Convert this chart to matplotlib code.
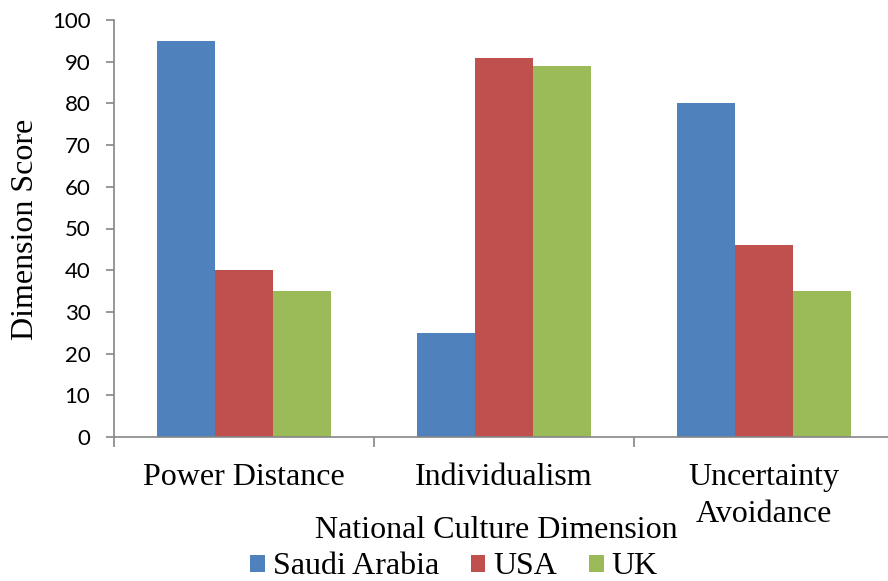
import matplotlib
matplotlib.use("Agg")
import matplotlib.pyplot as plt
from matplotlib.patches import Patch
import numpy as np

categories = ["Power Distance", "Individualism", "Uncertainty\nAvoidance"]
series_names = ["Saudi Arabia", "USA", "UK"]
saudi = [95, 25, 80]
usa = [40, 91, 46]
uk = [35, 89, 35]
y_ticks = [0, 10, 20, 30, 40, 50, 60, 70, 80, 90, 100]
colors = ["#4F81BD", "#C0504D", "#9BBB59"]

W, H = 888, 581
fig = plt.figure(figsize=(W / 100, H / 100), dpi=100)
ax_left, ax_right, ax_bottom, ax_top = 114, 894, 437, 20
ax = fig.add_axes([ax_left / W, 1 - ax_bottom / H, (ax_right - ax_left) / W, (ax_bottom - ax_top) / H])

serif = ["Liberation Serif", "DejaVu Serif"]
sans = ["Lato", "DejaVu Sans"]
fs = 23

x = np.arange(len(categories))
bw = 0.223
for i, (vals, c) in enumerate(zip([saudi, usa, uk], colors)):
    ax.bar(x + (i - 1) * bw, vals, bw, color=c, label=series_names[i], zorder=2)

ax.set_xlim(-0.5, len(categories) - 0.5)
ax.set_ylim(0, 100)
ax.set_yticks(y_ticks)
ax.set_yticklabels([str(v) for v in y_ticks], fontfamily=sans, fontsize=16)

ax.set_xticks(x)
ax.set_xticklabels(categories, fontfamily=serif, fontsize=fs, linespacing=1.36)
ax.set_xticks(np.arange(-0.5, len(categories), 1.0), minor=True)

gray = "#868686"
for s in ["top", "right"]:
    ax.spines[s].set_visible(False)
for s in ["left", "bottom"]:
    ax.spines[s].set_color(gray)
    ax.spines[s].set_linewidth(1.2)
ax.tick_params(axis="x", which="major", length=0, pad=19, colors="black")
ax.tick_params(axis="x", which="minor", length=7, width=1.2, color=gray)
ax.tick_params(axis="y", which="major", length=6, width=1.2, color=gray, pad=11, labelcolor="black")

ax.set_ylabel("Dimension Score", fontfamily=serif, fontsize=fs, va="center")
ax.yaxis.set_label_coords(-0.114, 0.499)
ax.set_xlabel("National Culture Dimension", fontfamily=serif, fontsize=fs, va="center")
ax.xaxis.set_label_coords(0.49, -0.225)

handles = [Patch(facecolor=c, edgecolor="none") for c in colors]
fig.legend(handles, series_names, loc="center", bbox_to_anchor=(454 / W, 1 - 567 / H),
           ncol=3, frameon=False, prop={"family": serif, "size": fs},
           handlelength=0.45, handleheight=0.45, handletextpad=0.25,
           columnspacing=1.0, borderpad=0, borderaxespad=0)

fig.savefig("out.png", dpi=100)
